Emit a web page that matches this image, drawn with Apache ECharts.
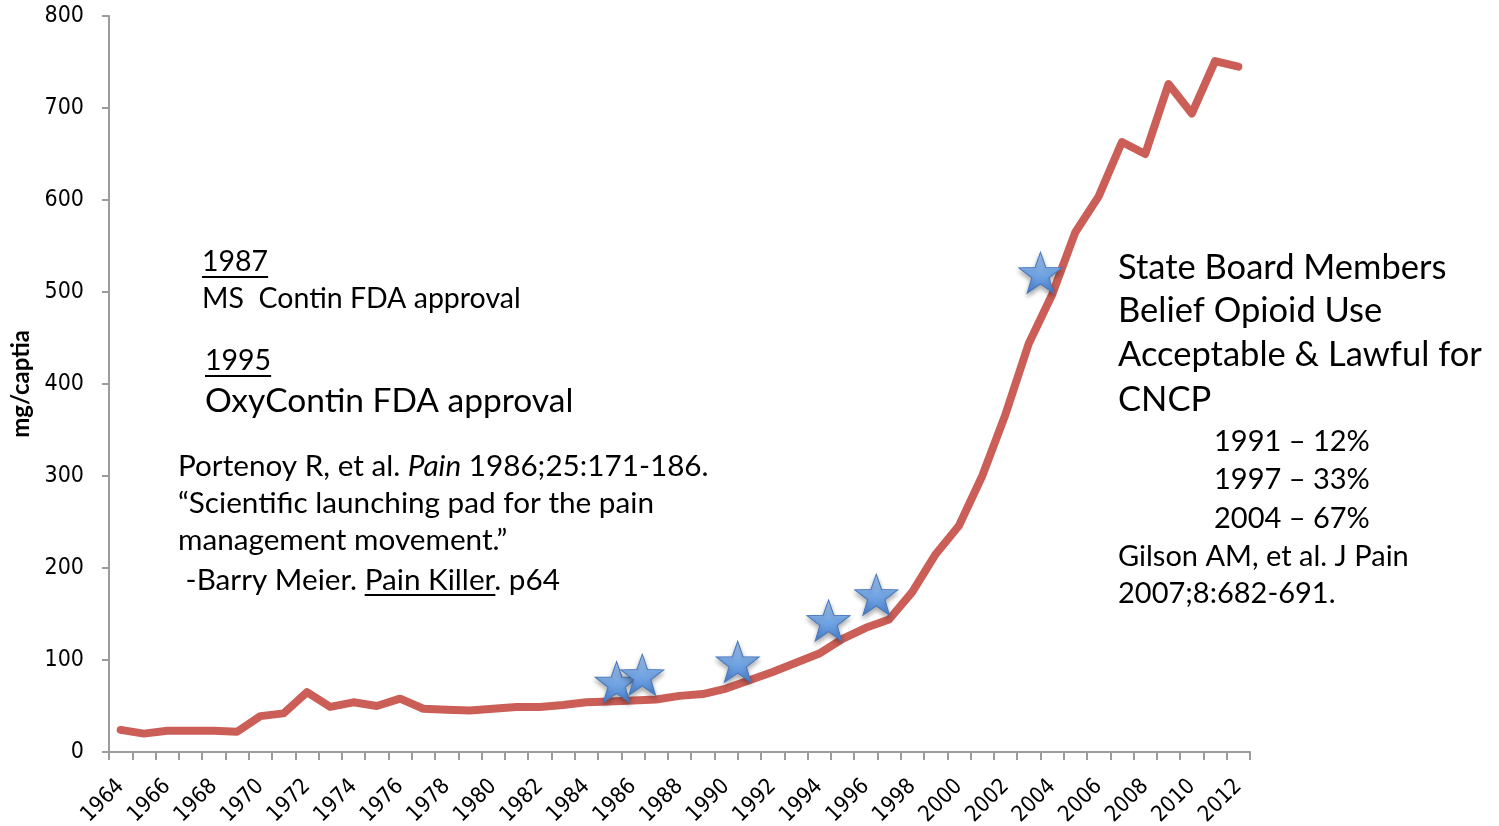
<!DOCTYPE html>
<html>
<head>
<meta charset="utf-8">
<script src="https://cdn.jsdelivr.net/npm/echarts@6/dist/echarts.min.js"></script>
<style>
  html, body { margin: 0; padding: 0; background: #fff; }
  #chart { width: 1499px; height: 826px; }
</style>
</head>
<body>
<div id="chart"></div>
<script>
var years = ["1964","1965","1966","1967","1968","1969","1970","1971","1972","1973",
  "1974","1975","1976","1977","1978","1979","1980","1981","1982","1983",
  "1984","1985","1986","1987","1988","1989","1990","1991","1992","1993",
  "1994","1995","1996","1997","1998","1999","2000","2001","2002","2003",
  "2004","2005","2006","2007","2008","2009","2010","2011","2012"];

// mg per capita
var values = [24, 20, 23, 23, 23, 22, 39, 42, 65, 49,
  54, 50, 58, 47, 46, 45, 47, 49, 49, 51,
  54, 55, 56, 57, 61, 63, 69, 78, 87, 97,
  107, 123, 135, 144, 174, 215, 246, 300, 367, 444,
  497, 565, 604, 663, 650, 726, 694, 751, 745];

// star markers (year position, value)
var starYears = [1985.3, 1986.4, 1990.5, 1994.4, 1996.45, 2003.5];
var starValues = [76, 84, 98, 143, 171, 521];

var yTicks = { min: 0, max: 800, interval: 100 };

function starPath(r, ratio) {
  var p = [];
  for (var i = 0; i < 10; i++) {
    var rad = (i % 2 === 0) ? r : r * ratio;
    var a = -Math.PI / 2 + i * Math.PI / 5;
    p.push((i === 0 ? "M" : "L") + (rad * Math.cos(a)).toFixed(2) + "," + (rad * Math.sin(a)).toFixed(2));
  }
  return "path://" + p.join(" ") + "Z";
}

var FONT = "Lato";
var AXFONT = "'DejaVu Sans Condensed', 'DejaVu Sans'";
var ctx = document.createElement("canvas").getContext("2d");
function textW(str, size) {
  ctx.font = size + "px " + FONT;
  return ctx.measureText(str).width;
}

function txt(x, y, text, size, rich) {
  var style = {
    text: text,
    fontSize: size,
    fontFamily: FONT,
    fill: "#000",
    verticalAlign: "middle",
    align: "left"
  };
  if (rich) style.rich = rich;
  return { type: "text", x: x, y: y, z: 10, style: style };
}
function uline(x1, x2, y) {
  return { type: "line", z: 10, shape: { x1: x1, y1: y, x2: x2, y2: y }, style: { stroke: "#000", lineWidth: 2 } };
}

var S1 = 28.5, S2 = 33.5, S3 = 34.5, S4 = 29, S5 = 29.7;
var meierPre = " -Barry Meier. ";
var meierX = 178 + textW(meierPre, S5);
var meierW = textW("Pain Killer", S5);

var chart = echarts.init(document.getElementById("chart"));
chart.setOption({
  animation: false,
  grid: { left: 109, right: 249, top: 16, bottom: 74, outerBoundsMode: "none" },
  xAxis: [{
    type: "category",
    data: years,
    boundaryGap: true,
    axisLine: { lineStyle: { color: "#9C9C9C", width: 2 } },
    axisTick: { show: true, interval: 0, length: 8, lineStyle: { color: "#9C9C9C", width: 2 } },
    axisLabel: { interval: 1, rotate: 45, margin: 31, fontFamily: AXFONT, fontSize: 22, color: "#000" },
    splitLine: { show: false }
  }, {
    type: "value",
    min: 1963.5,
    max: 2012.5,
    show: false
  }],
  yAxis: {
    type: "value",
    min: yTicks.min,
    max: yTicks.max,
    interval: yTicks.interval,
    name: "mg/captia",
    nameLocation: "middle",
    nameRotate: 90,
    nameGap: 74,
    nameTextStyle: { fontFamily: FONT, fontWeight: "bold", fontSize: 24, color: "#000" },
    axisLine: { show: true, lineStyle: { color: "#9C9C9C", width: 2 } },
    axisTick: { show: true, length: 7, lineStyle: { color: "#9C9C9C", width: 2 } },
    axisLabel: { margin: 25, fontFamily: AXFONT, fontSize: 23, color: "#000" },
    splitLine: { show: false }
  },
  series: [{
    type: "line",
    data: values,
    symbol: "none",
    lineStyle: { color: "#CB5E57", width: 8, cap: "round", join: "round" },
    z: 2
  }, {
    type: "scatter",
    xAxisIndex: 1,
    data: starYears.map(function (y, i) { return [y, starValues[i]]; }),
    symbol: starPath(50, 0.4),
    symbolSize: [43, 41],
    itemStyle: {
      color: new echarts.graphic.LinearGradient(0, 0, 0, 1, [
        { offset: 0, color: "#A6C8F0" },
        { offset: 0.5, color: "#76A8E6" },
        { offset: 1, color: "#4A82CF" }
      ]),
      borderColor: "#4677BD",
      borderWidth: 1,
      shadowColor: "rgba(0,0,0,0.35)",
      shadowBlur: 5,
      shadowOffsetY: 3,
      opacity: 1
    },
    z: 5
  }],
  graphic: [
    txt(202, 262, "1987", S1),
    uline(202, 202 + textW("1987", S1), 277),
    txt(202, 299, "MS  Contin FDA approval", S1),
    txt(205, 361, "1995", S1),
    uline(205, 205 + textW("1995", S1), 376),
    txt(205, 401, "OxyContin FDA approval", S2),
    txt(178, 466, "Portenoy R, et al. {i|Pain} 1986;25:171-186.", S5,
      { i: { fontStyle: "italic", fontSize: S5, fontFamily: FONT } }),
    txt(178, 503, "\u201CScientific launching pad for the pain", S5),
    txt(178, 540, "management movement.\u201D", S5),
    txt(178, 580, meierPre + "Pain Killer. p64", S5),
    uline(meierX, meierX + meierW, 595),
    txt(1118, 268, "State Board Members", S3),
    txt(1118, 311, "Belief Opioid Use", S3),
    txt(1118, 355, "Acceptable & Lawful for", S3),
    txt(1118, 400, "CNCP", S3),
    txt(1214, 442, "1991 \u2013 12%", S4),
    txt(1214, 480, "1997 \u2013 33%", S4),
    txt(1214, 519, "2004 \u2013 67%", S4),
    txt(1118, 557, "Gilson AM, et al. J Pain", S4),
    txt(1118, 594, "2007;8:682-691.", S4)
  ]
});
</script>
</body>
</html>
